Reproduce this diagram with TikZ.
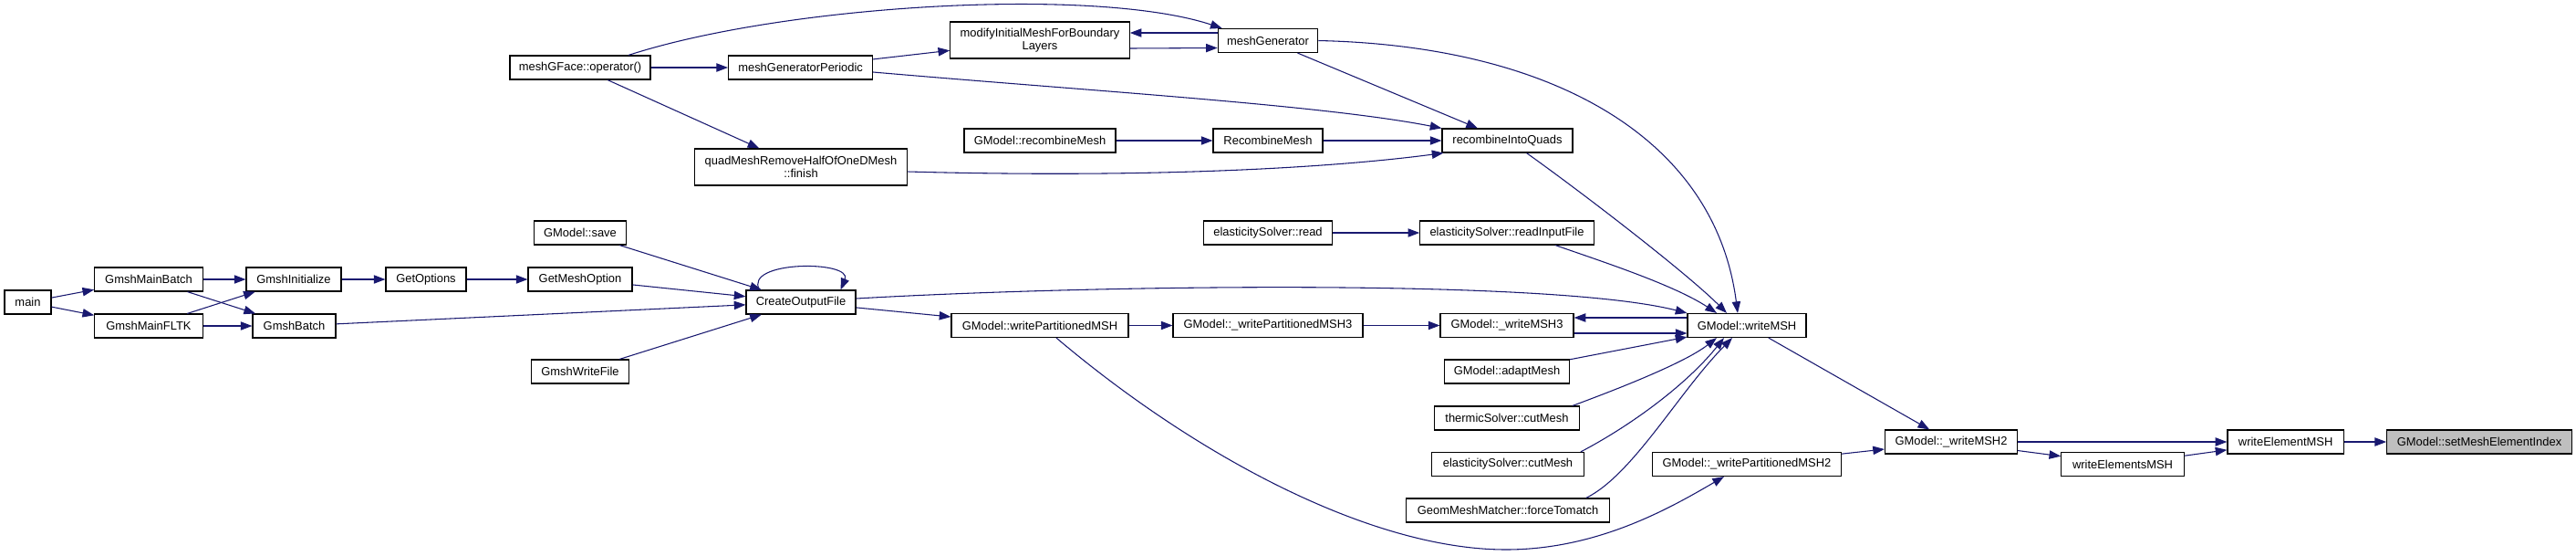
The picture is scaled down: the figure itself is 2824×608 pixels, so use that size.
\documentclass[tikz,border=0pt]{standalone}
\usepackage{fontspec}
\setmainfont{Liberation Sans}
\usetikzlibrary{arrows.meta,calc}
\definecolor{edgeblue}{HTML}{191970}
\definecolor{hlgray}{HTML}{BFBFBF}
\begin{document}
\begin{tikzpicture}[x=0.75pt,y=-0.75pt,
  fn/.style={draw=black,line width=0.85pt,fill=white,inner sep=0pt,
    minimum height=19.5pt,font=\fontsize{9.7}{10.7}\selectfont,align=center},
  wd/.style={minimum width=#1*0.75pt},
  e/.style={draw=edgeblue,line width=0.8pt,-{Triangle[length=9.5pt,width=7pt]}}]
\useasboundingbox[fill=white] (0,0) rectangle (2824,608);

% nodes
\node[fn,wd=51] (main) at (30.5,331) {main};
\node[fn,wd=118.5] (gmb) at (163,306) {GmshMainBatch};
\node[fn,wd=118.5] (gmf) at (163,357) {GmshMainFLTK};
\node[fn,wd=104] (gi) at (322,306) {GmshInitialize};
\node[fn,wd=91] (gb) at (322.5,357) {GmshBatch};
\node[fn,wd=88] (go) at (467,306) {GetOptions};
\node[fn,wd=114] (gmo) at (636,306) {GetMeshOption};
\node[fn,wd=120] (cof) at (878,331) {CreateOutputFile};
\node[fn,wd=107.5] (gwf) at (636,407) {GmshWriteFile};
\node[fn,wd=100.5] (save) at (636,255) {GModel::save};
\node[fn,wd=154] (mgf) at (636,74) {meshGFace::operator()};
\node[fn,wd=158] (mgp) at (877.6,74) {meshGeneratorPeriodic};
\node[fn,wd=233.5,minimum height=30pt] (qm) at (878,183) {quadMeshRemoveHalfOfOneDMesh\\::finish};
\node[fn,wd=196.5,minimum height=30pt] (mod) at (1140,44) {modifyInitialMeshForBoundary\\Layers};
\node[fn,wd=109.5] (mg) at (1390,44.5) {meshGenerator};
\node[fn,wd=166] (grm) at (1140,154) {GModel::recombineMesh};
\node[fn,wd=120] (rm) at (1390,154) {RecombineMesh};
\node[fn,wd=143] (riq) at (1652.5,154) {recombineIntoQuads};
\node[fn,wd=141.5] (esr) at (1390,255) {elasticitySolver::read};
\node[fn,wd=190.5] (rif) at (1652,255) {elasticitySolver::readInputFile};
\node[fn,wd=194] (wpm) at (1140,356.5) {GModel::writePartitionedMSH};
\node[fn,wd=208] (wpm3) at (1390,356.5) {GModel::\_writePartitionedMSH3};
\node[fn,wd=146] (wm3) at (1652,356.5) {GModel::\_writeMSH3};
\node[fn,wd=130] (wmsh) at (1915,356.5) {GModel::writeMSH};
\node[fn,wd=137] (am) at (1652,407) {GModel::adaptMesh};
\node[fn,wd=158.5] (tcm) at (1652,458) {thermicSolver::cutMesh};
\node[fn,wd=166.5] (ecm) at (1653,508.5) {elasticitySolver::cutMesh};
\node[fn,wd=222.5] (fm) at (1653,559) {GeomMeshMatcher::forceTomatch};
\node[fn,wd=206.5] (wpm2) at (1915,508.5) {GModel::\_writePartitionedMSH2};
\node[fn,wd=145] (wm2) at (2139,484) {GModel::\_writeMSH2};
\node[fn,wd=134.5] (wes) at (2327,508.5) {writeElementsMSH};
\node[fn,wd=127.5] (wem) at (2505.7,484) {writeElementMSH};
\node[fn,wd=202.7,fill=hlgray] (smei) at (2718,484) {GModel::setMeshElementIndex};

% edges (left part)
\draw[e] (main) -- (gmb);
\draw[e] (main) -- (gmf);
\draw[e] (gmb) -- (gi);
\draw[e] (gmb) -- (gb);
\draw[e] (gmf) -- (gi);
\draw[e] (gmf) -- (gb);
\draw[e] (gi) -- (go);
\draw[e] (go) -- (gmo);
\draw[e] (gmo) -- (cof);
\draw[e] (save) -- (cof);
\draw[e] (gb) -- (cof);
\draw[e] (gwf) -- (cof);
\draw[e] ($(cof.north west)+(15,0)$) .. controls (815,285) and (935,285) .. ($(cof.north east)+(-17,0)$);
\draw[e] ($(cof.east)+(0,-4)$) .. controls (1200,312) and (1700,305) .. (wmsh.north west);
\draw[e] (cof) -- (wpm);

% top part
\draw[e] (mgf) -- (mgp);
\draw[e] (mgf) -- (qm);
\draw[e] ($(mgf.north)+(53,0)$) .. controls (860,5) and (1200,-15) .. ($(mg.north west)+(5,0)$);
\draw[e] (mgp) -- (mod);
\draw[e] ($(mgp.east)+(0,5)$) .. controls (1200,100) and (1450,115) .. (riq.north west);
\draw[e] ($(qm.east)+(0,5)$) .. controls (1250,195) and (1450,185) .. ($(riq.south west)+(2,0)$);
\draw[e] ($(mg.west)+(0,-8.5)$) -- ($(mod.east)+(0,-8)$);
\draw[e] ($(mod.east)+(0,9)$) -- ($(mg.west)+(0,8)$);
\draw[e] (mg) -- (riq);
\draw[e] (mg.east) .. controls (1700,50) and (1880,150) .. ($(wmsh.north)+(-10,0)$);
\draw[e] (grm) -- (rm);
\draw[e] (rm) -- (riq);
\draw[e] ($(riq.south)+(21,0)$) .. controls (1740,215) and (1850,300) .. ($(wmsh.north)+(-22,0)$);
\draw[e] (esr) -- (rif);
\draw[e] ($(rif.south)+(53,0)$) .. controls (1755,286) and (1835,312) .. ($(wmsh.north)+(-33,0)$);

% middle row
\draw[e] (wpm) -- (wpm3);
\draw[e] (wpm3) -- (wm3);
\draw[e] ($(wmsh.west)+(0,-8.5)$) -- ($(wm3.east)+(0,-8.5)$);
\draw[e] ($(wm3.east)+(0,8.5)$) -- ($(wmsh.west)+(0,8.5)$);
\draw[e] (am) -- (wmsh);
\draw[e] ($(tcm.north east)+(-8,0)$) .. controls (1790,420) and (1850,395) .. ($(wmsh.south)+(-33,0)$);
\draw[e] ($(ecm.north east)+(-4,0)$) .. controls (1790,465) and (1850,420) .. ($(wmsh.south)+(-25,0)$);
\draw[e] ($(fm.north east)+(-26,0)$) .. controls (1790,520) and (1840,430) .. ($(wmsh.south)+(-16,0)$);
\draw[e] ($(wpm.south)+(18,0)$) .. controls (1308,497) and (1501,602) .. (1651,602)
   .. controls (1751,602) and (1830,557) .. ($(wpm2.south)+(-25,0)$);

% right part
\draw[e] (wmsh) -- (wm2);
\draw[e] (wpm2) -- (wm2);
\draw[e] (wm2) -- (wem);
\draw[e] (wm2) -- (wes);
\draw[e] (wes) -- (wem);
\draw[e] (wem) -- (smei);
\end{tikzpicture}
\end{document}
